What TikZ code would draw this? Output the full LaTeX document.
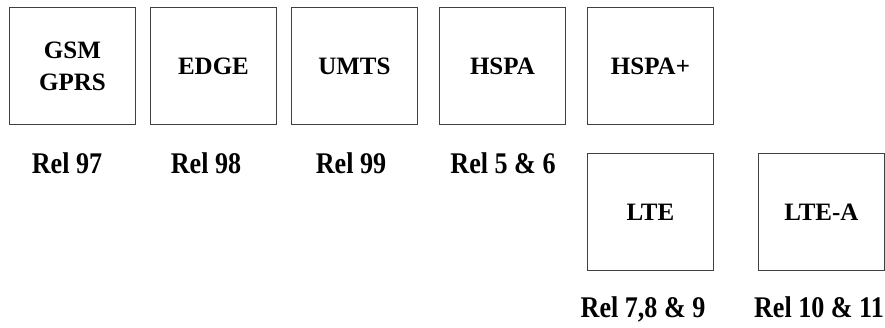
\documentclass[tikz,border=0pt]{standalone}
\usepackage{fontspec}
\setmainfont{Liberation Serif}
\newfontfamily\relfont[FakeStretch=0.87]{Liberation Serif}
\begin{document}
\begin{tikzpicture}[x=1pt,y=1pt,
  genbox/.style={draw=black!75, line width=0.9pt, minimum width=126pt, minimum height=117pt,
    inner sep=0pt, align=center, anchor=north west,
    font=\fontsize{25}{32}\selectfont\bfseries},
  rellabel/.style={anchor=base, inner sep=0pt,
    font=\relfont\fontsize{30}{36}\selectfont\bfseries}]
\useasboundingbox (0,0) rectangle (885,-327);
\node[genbox] (gsm)   at (9,-7)    {GSM\\GPRS};
\node[genbox] (edge)  at (150,-7)  {EDGE};
\node[genbox] (umts)  at (291,-7)  {UMTS};
\node[genbox] (hspa)  at (439,-7)  {HSPA};
\node[genbox] (hspap) at (587,-7)  {HSPA+};
\node[genbox] (lte)   at (587,-153) {LTE};
\node[genbox] (ltea)  at (758,-153) {LTE-A};
\node[rellabel] (r97)  at (67,-173)  {Rel 97};
\node[rellabel] (r98)  at (206,-173) {Rel 98};
\node[rellabel] (r99)  at (351,-173) {Rel 99};
\node[rellabel] (r56)  at (503,-173) {Rel 5 \& 6};
\node[rellabel] (r789) at (643,-317) {Rel 7,8 \& 9};
\node[rellabel] (r1011) at (819,-317) {Rel 10 \& 11};
\end{tikzpicture}
\end{document}
